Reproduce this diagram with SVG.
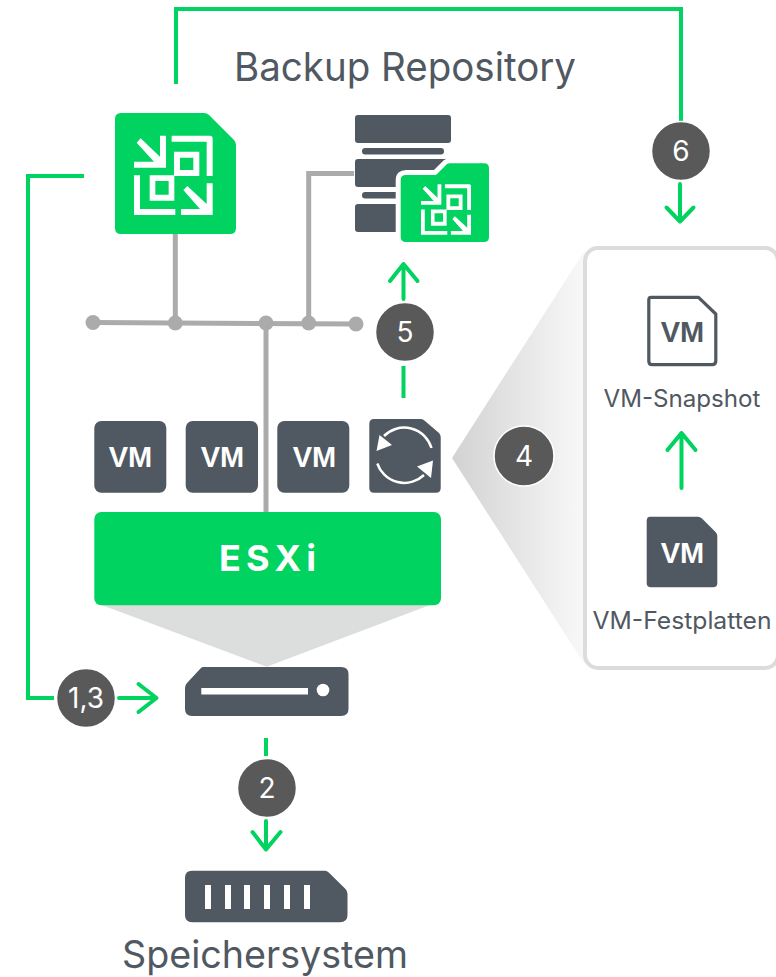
<svg xmlns="http://www.w3.org/2000/svg" xmlns:xlink="http://www.w3.org/1999/xlink" width="776" height="977" viewBox="0 0 776 977">
<style>
.dark{fill:#505861}
.green{fill:#00d35f}
.wire{fill:none;stroke:#ababab;stroke-width:5}
.dot{fill:#ababab}
.flow{fill:none;stroke:#00d35f;stroke-width:4;stroke-linecap:round;stroke-linejoin:round}
.flowb{fill:none;stroke:#00d35f;stroke-width:4;stroke-linejoin:miter}
.badge{fill:#595959;stroke:#fff;stroke-width:1.5}
.num{font-family:"Inter","Liberation Sans",sans-serif;font-size:28px;fill:#fff;text-anchor:middle}
.label{font-family:"Inter","Liberation Sans",sans-serif;fill:#505861}
.vm{font-family:"Liberation Sans",Arial,sans-serif;font-weight:700;font-size:29px;text-anchor:middle}
.w{fill:#fff}
</style>
<defs>
<linearGradient id="fade" gradientUnits="userSpaceOnUse" x1="452" y1="0" x2="590" y2="0">
<stop offset="0" stop-color="#d2d2d2"/><stop offset="1" stop-color="#fafafa"/>
</linearGradient>
<g id="logo" fill="#fff">
<path d="M132 215H192L140 158L152 145L210 200V137H228V233H132Z"/>
<path d="M245 137H360Q368 137 368 145V258H350V155H245Z"/>
<path fill-rule="evenodd" d="M252 185H328V258H252ZM270 203V240H310V203Z"/>
<path fill-rule="evenodd" d="M179 256H253V332H179ZM196 273V314H236V273Z"/>
<path d="M132 256H150V357H256V375H132Z"/>
<path d="M368 280V375H273V357H330L280 300L292 288L350 342V280Z"/>
</g>
</defs>

<g id="zoom-funnel"><polygon points="452,458 585,250 585,665" fill="url(#fade)"/></g>
<g id="disk-funnel"><polygon points="101.7,605 430,605 266.7,666.7" fill="#dcdede"/></g>

<g id="detail-panel">
<rect x="585" y="248" width="193" height="420" rx="13" fill="#fff" stroke="#dcdcdc" stroke-width="4"/>
</g>

<g id="connectors">
<path class="wire" d="M93 322.5L356 324"/>
<path class="wire" d="M175.3 234V323"/>
<path class="wire" d="M266 323V512"/>
<path class="wire" d="M308.7 323V173.5H354"/>
<circle class="dot" cx="93" cy="322.5" r="7.5"/>
<circle class="dot" cx="175.3" cy="323" r="7.5"/>
<circle class="dot" cx="266" cy="323" r="7.5"/>
<circle class="dot" cx="308.7" cy="323" r="7.5"/>
<circle class="dot" cx="356" cy="324" r="7.5"/>
<path class="flowb" d="M176 84V9H681V122"/>
<path class="flow" d="M680 184V221M666.5 207.5L680 221.5L693.5 207.5"/>
<path class="flowb" d="M84 176H28V698H54"/>
<path class="flow" d="M119 698H156M138.5 684L156.5 698L138.5 712"/>
<path class="flowb" d="M266 738V756"/>
<path class="flow" d="M266 821V849M252.5 832L266 849.5L280.5 832"/>
<path class="flow" d="M403.5 299V264M390 281L403.5 264L417.5 281"/>
<path class="flowb" d="M403.5 366V398"/>
<path class="flow" d="M681.5 488V433M667.5 450L681.5 433L695.5 450"/>
</g>

<g id="veeam-server">
<path class="green" d="M121 113H204Q207 113 209 115L234 140Q236 142 236 145V228Q236 234 230 234H121Q115 234 115 228V119Q115 113 121 113Z"/>
<use xlink:href="#logo" href="#logo" transform="translate(90 90) scale(.3333)"/>
</g>

<g id="backup-repository">
<text class="label" x="234" y="81" font-size="39" textLength="342" lengthAdjust="spacingAndGlyphs">Backup Repository</text>
<rect class="dark" x="355" y="115" width="96" height="28" rx="3"/>
<rect class="dark" x="362" y="148" width="82" height="6.5" rx="3.2"/>
<rect class="dark" x="355" y="159" width="96" height="28" rx="3"/>
<rect class="dark" x="362" y="192" width="82" height="6.5" rx="3.2"/>
<rect class="dark" x="355" y="204" width="96" height="28" rx="3"/>
<path class="green" stroke="#fff" stroke-width="10" paint-order="stroke" d="M406 175H436L447 164Q448 163.3 450 163.3H484Q489 163.3 489 168V237Q489 242 484 242H406Q400.7 242 400.7 237V180Q400.7 175 406 175Z"/>
<use xlink:href="#logo" href="#logo" transform="translate(393 155.3) scale(.212)"/>
</g>

<g id="esxi">
<rect class="green" x="94.3" y="512" width="346.7" height="93.3" rx="7"/>
<text x="219" y="571" font-family="Inter,'Liberation Sans',sans-serif" font-weight="700" font-size="36" fill="#fff" textLength="97" lengthAdjust="spacing">ESXi</text>
</g>

<g id="vm-1"><rect class="dark" x="94.3" y="421" width="72" height="71.7" rx="7"/><text class="vm w" x="130.500" y="466.7">VM</text></g>
<g id="vm-2"><rect class="dark" x="185.7" y="421" width="72.3" height="71.7" rx="7"/><text class="vm w" x="222.500" y="466.7">VM</text></g>
<g id="vm-3"><rect class="dark" x="277.3" y="421" width="72" height="71.7" rx="7"/><text class="vm w" x="314.500" y="466.7">VM</text></g>

<g id="sync">
<path class="dark" d="M374 419H421Q423 419 425 421L439 433Q440.7 435 440.7 437V488Q440.7 492.7 436 492.7H374Q369.3 492.7 369.3 488V424Q369.3 419 374 419Z"/>
<path fill="none" stroke="#fff" stroke-width="2.5" d="M431.5 448A28.5 28.5 0 0 0 384 436"/>
<path fill="none" stroke="#fff" stroke-width="2.5" d="M377.3 463.5A28.5 28.5 0 0 0 424 475"/>
<polygon class="w" points="376.500,451 379.500,435 392,445"/>
<polygon class="w" points="433,460.500 417,466.500 431,478"/>
</g>

<g id="esxi-disk">
<path class="dark" d="M203 667H341Q348.5 667 348.5 674V709Q348.5 716 341 716H192Q185 716 185 709V688Q185 685 187 683L200 669Q201.5 667 203 667Z"/>
<rect class="w" x="201.3" y="688" width="106.7" height="6.5"/>
<circle class="w" cx="323" cy="690" r="6.3"/>
</g>

<g id="storage">
<path class="dark" d="M192 870.7H325Q327 870.7 329 872.7L345.5 889Q347.5 891 347.5 894V915Q347.5 922.3 340 922.3H192Q185 922.3 185 915V878Q185 870.7 192 870.7Z"/>
<rect class="w" x="205" y="885" width="6" height="24"/>
<rect class="w" x="225" y="885" width="6" height="24"/>
<rect class="w" x="244" y="885" width="6" height="24"/>
<rect class="w" x="264" y="885" width="6" height="24"/>
<rect class="w" x="284" y="885" width="6" height="24"/>
<rect class="w" x="304" y="885" width="6" height="24"/>
<text class="label" x="122" y="968" font-size="38" textLength="286" lengthAdjust="spacingAndGlyphs">Speichersystem</text>
</g>

<g id="vm-snapshot">
<path d="M651 297.3H698.5L715.8 314V361Q715.8 364.7 712 364.7H652Q648.8 364.7 648.8 361V300Q648.8 297.3 651 297.3Z" fill="#fff" stroke="#505861" stroke-width="3.2" stroke-linejoin="round"/>
<text class="vm" x="682.5" y="341.5" fill="#505861">VM</text>
<text class="label" x="603.5" y="406.5" font-size="24" textLength="157" lengthAdjust="spacingAndGlyphs">VM-Snapshot</text>
</g>

<g id="vm-disks">
<path class="dark" d="M650 516.7H698Q700 516.7 702 518.5L715.5 532Q717.3 534 717.3 536V583Q717.3 587.3 713 587.3H651Q646.7 587.3 646.7 583V521Q646.7 516.7 650 516.7Z"/>
<text class="vm w" x="682.5" y="563">VM</text>
<text class="label" x="592.5" y="628.5" font-size="24" textLength="179" lengthAdjust="spacingAndGlyphs">VM-Festplatten</text>
</g>

<g id="badges">
<circle class="badge" cx="681" cy="151" r="29.5"/><text class="num" x="681" y="161">6</text>
<circle class="badge" cx="405" cy="332" r="29.5"/><text class="num" x="405" y="342">5</text>
<circle class="badge" cx="524" cy="456" r="30"/><text class="num" x="524" y="466">4</text>
<circle class="badge" cx="86" cy="698" r="29.5"/><text class="num" x="86" y="708">1,3</text>
<circle class="badge" cx="267" cy="788" r="29.5"/><text class="num" x="267" y="798">2</text>
</g>
</svg>
